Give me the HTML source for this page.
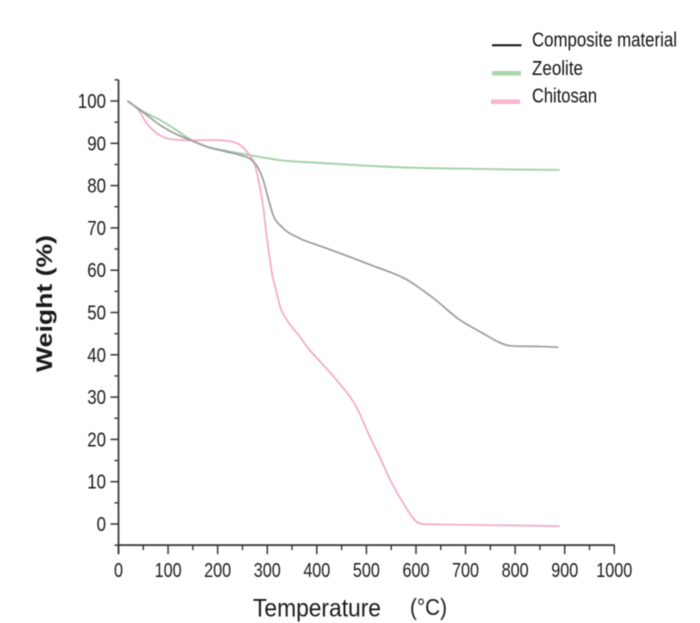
<!DOCTYPE html>
<html lang="en">
<head>
<meta charset="utf-8">
<title>Thermogravimetric curves</title>
<style>
html,body{margin:0;padding:0;background:#fff;width:700px;height:623px;overflow:hidden}
svg{display:block}
text{fill:#1a1a1a}
.tick{font:20px "Liberation Sans",sans-serif}
.legend{font:20px "Liberation Sans",sans-serif;fill:#111}
</style>
</head>
<body>
<svg id="chart" width="700" height="623" viewBox="0 0 700 623" xmlns="http://www.w3.org/2000/svg">
<g id="soft" style="filter:blur(.45px)">
<g id="series"></g>
<g id="axes"></g>
<text transform="translate(52,372) rotate(-90)" style="font:bold 22px 'Liberation Sans',sans-serif" textLength="137" lengthAdjust="spacingAndGlyphs">Weight (%)</text>
<text x="253" y="616.5" style="font:25px 'Liberation Sans',sans-serif" textLength="128" lengthAdjust="spacingAndGlyphs">Temperature</text>
<text x="410" y="615" style="font:23px 'Liberation Sans',sans-serif" textLength="37" lengthAdjust="spacingAndGlyphs">(°C)</text>
<g>
<line x1="492" y1="45.3" x2="521.5" y2="45.3" stroke="#111" stroke-width="2"/>
<text class="legend" x="532" y="46.7" textLength="145" lengthAdjust="spacingAndGlyphs">Composite material</text>
<line x1="492" y1="73.3" x2="521" y2="73.3" stroke="#a9d6ab" stroke-width="4.5"/>
<text class="legend" x="532" y="75" textLength="51" lengthAdjust="spacingAndGlyphs">Zeolite</text>
<line x1="491" y1="101.7" x2="520" y2="101.7" stroke="#f9b6d2" stroke-width="4.5"/>
<text class="legend" x="532" y="102.7" textLength="65" lengthAdjust="spacingAndGlyphs">Chitosan</text>
</g>
</g>
</svg>
<script>
const xTicks = [0,100,200,300,400,500,600,700,800,900,1000];
const yTicks = [0,10,20,30,40,50,60,70,80,90,100];
const tempComposite = [18,50,84,117,144,178,218,245,269,282,292,302,312,329,366,405,447,514,581,635,689,730,793,840,887];
const weightComposite = [100,97.3,94.3,92.1,90.8,89.2,88,87.2,86,84.1,81.3,77,73,70.3,67.5,65.8,64,61,57.8,53.4,48.2,45.4,42.1,42,41.8];
const tempZeolite = [18,50,84,117,144,178,218,265,326,400,500,600,700,800,890];
const weightZeolite = [100,97.5,95.5,93.1,91,89.2,88.2,87.2,86,85.4,84.7,84.2,84,83.8,83.7];
const tempChitosan = [18,40,57,77,97,124,151,185,218,245,262,275,285,292,299,305.5,309,316,326,342,363,383,410,440,481,507,527,548,574,602,612,650,890];
const weightChitosan = [100,97.9,94.7,92.4,91.2,90.8,90.7,90.8,90.6,89.6,87.6,84.9,79.7,75,67.9,62.4,59.6,56.1,51.4,47.8,44.7,41.5,38,34,27.4,20.6,15.8,10.4,5,0.5,0,-0.1,-0.5];

const xScale = v => 118.5 + v * 0.4958;
const yScale = v => 524 - v * 4.23;
const NS = 'http://www.w3.org/2000/svg';
const axes = document.getElementById('axes');
const series = document.getElementById('series');

function make(tag, attrs, parent){
  const el = document.createElementNS(NS, tag);
  for (const k in attrs) el.setAttribute(k, attrs[k]);
  parent.appendChild(el);
  return el;
}
function smoothPath(xs, ys){
  const n = xs.length, d = [], h = [], m = [];
  for (let i = 0; i < n-1; i++){ h[i] = xs[i+1]-xs[i]; d[i] = (ys[i+1]-ys[i])/h[i]; }
  m[0] = d[0]; m[n-1] = d[n-2];
  for (let i = 1; i < n-1; i++){
    if (d[i-1]*d[i] <= 0) { m[i] = 0; continue; }
    const t = (d[i]*h[i-1] + d[i-1]*h[i])/(h[i-1]+h[i]);
    const lim = 3*Math.min(Math.abs(d[i-1]),Math.abs(d[i]));
    m[i] = Math.sign(t)*Math.min(Math.abs(t),lim);
  }
  let s = 'M' + xScale(xs[0]).toFixed(2) + ' ' + yScale(ys[0]).toFixed(2);
  for (let i = 0; i < n-1; i++){
    s += 'C' + [
      xScale(xs[i]+h[i]/3), yScale(ys[i]+m[i]*h[i]/3),
      xScale(xs[i+1]-h[i]/3), yScale(ys[i+1]-m[i+1]*h[i]/3),
      xScale(xs[i+1]), yScale(ys[i+1])
    ].map(v=>v.toFixed(2)).join(' ');
  }
  return s;
}

const zeoliteLine = make('path', {d: smoothPath(tempZeolite, weightZeolite), fill:'none', stroke:'#a3d1a9', 'stroke-width':1.9}, series);


const chitosanLine = make('path', {d: smoothPath(tempChitosan, weightChitosan), fill:'none', stroke:'#f5a8c8', 'stroke-width':1.7}, series);


const compositeLine = make('path', {d: smoothPath(tempComposite, weightComposite), fill:'none', stroke:'#9c9c9c', 'stroke-width':1.7}, series);



const xAxisLine = make('line', {x1:xScale(0), x2:xScale(1000)+0.5, y1:yScale(-5), y2:yScale(-5), stroke:'#333', 'stroke-width':1.7}, axes);


const yAxisLine = make('line', {x1:xScale(0), x2:xScale(0), y1:yScale(105), y2:yScale(-5)+9, stroke:'#333', 'stroke-width':1.7}, axes);



xTicks.forEach((v,i)=>{
  const t = make('line', {x1:xScale(v), x2:xScale(v), y1:yScale(-5), y2:yScale(-5)+9, stroke:'#333', 'stroke-width':1.5}, axes);
  
  
  if (i < xTicks.length-1){
    const mid = (v + xTicks[i+1]) / 2;
    const m = make('line', {x1:xScale(mid), x2:xScale(mid), y1:yScale(-5), y2:yScale(-5)+5, stroke:'#333', 'stroke-width':1.4}, axes);
    
    
  }
  const label = String(v);
  const w = label.length * 9;
  const l = make('text', {x:xScale(v)-w/2, y:577, class:'tick', textLength:w, lengthAdjust:'spacingAndGlyphs'}, axes);
  
  
  l.textContent = label;
});
yTicks.forEach(v=>{
  const t = make('line', {x1:xScale(0)-8, x2:xScale(0), y1:yScale(v), y2:yScale(v), stroke:'#333', 'stroke-width':1.5}, axes);
  
  
  const mid = v + 5;
  const m = make('line', {x1:xScale(0)-4, x2:xScale(0), y1:yScale(mid), y2:yScale(mid), stroke:'#333', 'stroke-width':1.4}, axes);
  
  
  const label = String(v);
  const w = label.length * 9.4;
  const l = make('text', {x:106-w, y:yScale(v)+7, class:'tick', textLength:w, lengthAdjust:'spacingAndGlyphs'}, axes);
  
  
  l.textContent = label;
});
const yMinorLow = make('line', {x1:xScale(0)-4, x2:xScale(0), y1:yScale(-5), y2:yScale(-5), stroke:'#333', 'stroke-width':1.4}, axes);


</script>
</body>
</html>
